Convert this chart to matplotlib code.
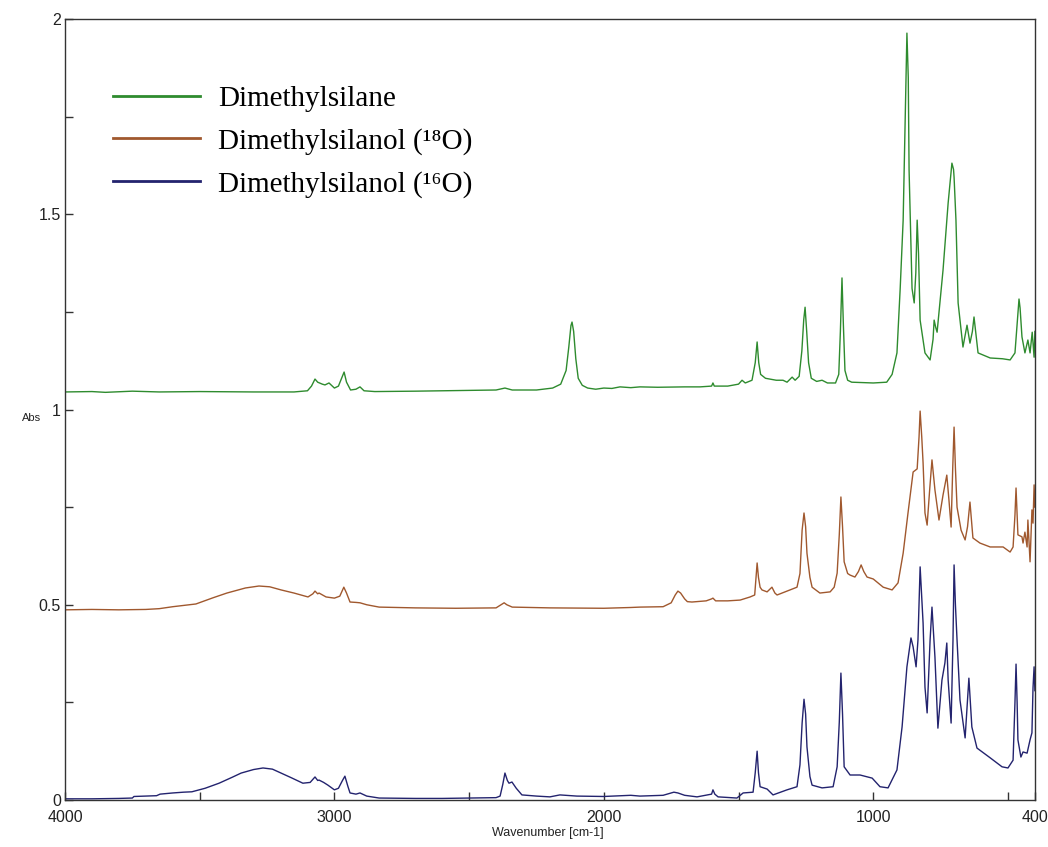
import matplotlib
matplotlib.use("Agg")
import matplotlib.pyplot as plt
import numpy as np

# spectra: wavenumber (cm-1) and absorbance
wn_silane = [4000, 3900, 3850, 3750, 3650, 3500, 3300, 3150, 3100, 3085, 3072, 3062, 3045, 3035,
             3020, 3000, 2985, 2964, 2955, 2940, 2920, 2905, 2890, 2850, 2700, 2600, 2500, 2400,
             2367, 2340, 2250, 2190, 2160, 2140, 2130, 2122, 2118, 2112, 2104, 2095, 2080, 2060,
             2030, 2000, 1970, 1940, 1900, 1866, 1800, 1700, 1643, 1600, 1595, 1590, 1540, 1500,
             1487, 1475, 1450, 1438, 1431, 1425, 1418, 1400, 1360, 1335, 1320, 1301, 1290, 1275,
             1265, 1258, 1253, 1247, 1240, 1230, 1210, 1190, 1170, 1140, 1128, 1122, 1116, 1111,
             1105, 1095, 1080, 1000, 950, 930, 920, 912, 900, 889, 880, 875, 870, 867, 856, 848,
             842, 837, 832, 826, 808, 789, 778, 774, 768, 763, 741, 722, 712, 708, 702, 700, 693,
             685, 667, 652, 641, 632, 626, 620, 611, 566, 520, 492, 474, 465, 459, 455, 448, 437,
             426, 418, 410, 403, 400]
abs_silane = [1.045, 1.046, 1.044, 1.047, 1.045, 1.046, 1.045, 1.045, 1.048, 1.06, 1.078, 1.07,
              1.065, 1.063, 1.068, 1.055, 1.06, 1.096, 1.07, 1.05, 1.052, 1.058, 1.048, 1.046,
              1.047, 1.048, 1.049, 1.05, 1.055, 1.05, 1.05, 1.055, 1.065, 1.1, 1.16, 1.215, 1.224,
              1.2, 1.13, 1.08, 1.062, 1.055, 1.052, 1.055, 1.054, 1.058, 1.056, 1.058, 1.057,
              1.058, 1.058, 1.06, 1.068, 1.06, 1.06, 1.065, 1.075, 1.068, 1.075, 1.12, 1.173, 1.12,
              1.09, 1.08, 1.075, 1.075, 1.07, 1.083, 1.075, 1.085, 1.15, 1.23, 1.262, 1.2, 1.12,
              1.08, 1.072, 1.075, 1.068, 1.068, 1.09, 1.2, 1.337, 1.22, 1.1, 1.075, 1.07, 1.068,
              1.07, 1.09, 1.12, 1.145, 1.31, 1.485, 1.8, 1.964, 1.85, 1.613, 1.31, 1.273, 1.35,
              1.485, 1.4, 1.229, 1.145, 1.127, 1.18, 1.229, 1.21, 1.198, 1.357, 1.529, 1.6, 1.631,
              1.615, 1.595, 1.485, 1.273, 1.16, 1.216, 1.17, 1.2, 1.237, 1.2, 1.145, 1.132, 1.13,
              1.127, 1.145, 1.23, 1.283, 1.26, 1.186, 1.145, 1.178, 1.145, 1.198, 1.134, 1.2]

wn_18o = [4000, 3900, 3800, 3700, 3650, 3600, 3514, 3450, 3399, 3330, 3280, 3240, 3198, 3150,
          3098, 3080, 3072, 3062, 3057, 3031, 3000, 2980, 2965, 2955, 2942, 2920, 2905, 2880,
          2834, 2700, 2550, 2400, 2370, 2360, 2340, 2200, 2000, 1900, 1866, 1780, 1750, 1735,
          1725, 1715, 1700, 1690, 1673, 1620, 1600, 1595, 1585, 1540, 1494, 1457, 1440, 1435,
          1431, 1426, 1420, 1413, 1394, 1376, 1365, 1357, 1320, 1283, 1272, 1264, 1257, 1251,
          1246, 1235, 1227, 1198, 1160, 1145, 1134, 1126, 1120, 1114, 1108, 1095, 1086, 1068,
          1055, 1045, 1035, 1023, 1000, 963, 930, 908, 889, 871, 852, 837, 830, 826, 820, 815,
          808, 800, 790, 782, 771, 756, 741, 727, 719, 711, 705, 700, 695, 689, 674, 659, 650,
          641, 636, 630, 604, 566, 518, 492, 481, 474, 470, 466, 463, 448, 444, 437, 429, 426,
          418, 411, 407, 403, 400]
abs_18o = [0.487, 0.488, 0.487, 0.488, 0.49, 0.495, 0.502, 0.518, 0.53, 0.543, 0.548, 0.546,
           0.538, 0.53, 0.52, 0.528, 0.535, 0.528, 0.53, 0.52, 0.517, 0.522, 0.545, 0.53, 0.507,
           0.506, 0.505, 0.5, 0.494, 0.492, 0.491, 0.492, 0.505, 0.5, 0.494, 0.492, 0.491, 0.493,
           0.494, 0.495, 0.505, 0.525, 0.535, 0.53, 0.515, 0.508, 0.507, 0.51, 0.515, 0.517, 0.51,
           0.51, 0.512, 0.52, 0.525, 0.57, 0.607, 0.57, 0.545, 0.538, 0.533, 0.545, 0.53, 0.525,
           0.535, 0.545, 0.58, 0.691, 0.735, 0.7, 0.632, 0.57, 0.545, 0.53, 0.533, 0.545, 0.581,
           0.68, 0.776, 0.7, 0.61, 0.58, 0.576, 0.571, 0.585, 0.602, 0.585, 0.571, 0.566, 0.545,
           0.538, 0.556, 0.632, 0.735, 0.84, 0.848, 0.93, 0.996, 0.93, 0.863, 0.735, 0.704, 0.8,
           0.871, 0.794, 0.717, 0.781, 0.832, 0.768, 0.699, 0.85, 0.955, 0.85, 0.75, 0.691,
           0.666, 0.7, 0.763, 0.72, 0.671, 0.658, 0.648, 0.648, 0.635, 0.648, 0.73, 0.799, 0.73,
           0.679, 0.674, 0.658, 0.686, 0.648, 0.717, 0.61, 0.743, 0.709, 0.807, 0.75]

wn_16o = [4000, 3900, 3800, 3750, 3744, 3700, 3660, 3647, 3600, 3560, 3529, 3480, 3428, 3380,
          3346, 3300, 3265, 3230, 3198, 3160, 3117, 3090, 3072, 3062, 3057, 3040, 3024, 3000,
          2985, 2970, 2961, 2950, 2942, 2920, 2905, 2880, 2834, 2700, 2600, 2500, 2400, 2385,
          2375, 2367, 2358, 2352, 2341, 2325, 2304, 2250, 2200, 2163, 2100, 2000, 1900, 1866,
          1780, 1740, 1725, 1700, 1654, 1600, 1595, 1588, 1576, 1506, 1483, 1446, 1438, 1431,
          1426, 1420, 1394, 1372, 1320, 1283, 1272, 1264, 1257, 1251, 1246, 1235, 1227, 1190,
          1149, 1134, 1126, 1120, 1114, 1108, 1086, 1049, 1004, 975, 945, 912, 893, 875, 860,
          852, 841, 834, 830, 826, 820, 815, 808, 800, 789, 782, 771, 760, 745, 734, 727, 722,
          711, 704, 700, 695, 689, 678, 659, 645, 634, 615, 566, 522, 500, 481, 474, 470, 466,
          463, 452, 444, 429, 418, 411, 407, 403, 400]
abs_16o = [0.003, 0.003, 0.004, 0.005, 0.009, 0.01, 0.011, 0.015, 0.018, 0.02, 0.021, 0.03,
           0.043, 0.058, 0.069, 0.078, 0.082, 0.079, 0.069, 0.057, 0.043, 0.045, 0.059, 0.05,
           0.051, 0.045, 0.038, 0.026, 0.03, 0.05, 0.061, 0.035, 0.018, 0.015, 0.018, 0.01,
           0.005, 0.004, 0.004, 0.005, 0.006, 0.01, 0.04, 0.069, 0.05, 0.043, 0.046, 0.03, 0.013,
           0.01, 0.008, 0.013, 0.01, 0.009, 0.012, 0.01, 0.012, 0.02, 0.018, 0.012, 0.008, 0.015,
           0.026, 0.015, 0.008, 0.005, 0.018, 0.02, 0.07, 0.125, 0.07, 0.034, 0.028, 0.013,
           0.026, 0.034, 0.09, 0.197, 0.258, 0.22, 0.136, 0.06, 0.038, 0.031, 0.034, 0.085, 0.2,
           0.325, 0.22, 0.085, 0.064, 0.064, 0.056, 0.034, 0.031, 0.077, 0.187, 0.341, 0.415,
           0.392, 0.341, 0.41, 0.5, 0.597, 0.52, 0.453, 0.289, 0.223, 0.41, 0.494, 0.366, 0.184,
           0.307, 0.351, 0.402, 0.307, 0.197, 0.41, 0.602, 0.5, 0.41, 0.256, 0.159, 0.312, 0.187,
           0.133, 0.108, 0.085, 0.082, 0.102, 0.25, 0.348, 0.25, 0.154, 0.11, 0.123, 0.12, 0.154,
           0.172, 0.287, 0.341, 0.28]

labels = ["Dimethylsilane", "Dimethylsilanol (\u00b9\u2078O)", "Dimethylsilanol (\u00b9\u2076O)"]
colors = ["#2E8B2E", "#A0582E", "#23236E"]

fig = plt.figure(figsize=(10.48, 8.47), dpi=100)
ax = fig.add_axes([0.062, 0.0555, 0.9255, 0.922])

ax.plot(wn_silane, abs_silane, color=colors[0], lw=1.0, label=labels[0])
ax.plot(wn_18o, abs_18o, color=colors[1], lw=1.0, label=labels[1])
ax.plot(wn_16o, abs_16o, color=colors[2], lw=1.0, label=labels[2])

ax.set_xlim(4000, 400)
ax.set_ylim(0, 2)
ax.set_xticks([4000, 3000, 2000, 1000, 400])
ax.set_xticklabels(["4000", "3000", "2000", "1000", "400"])
ax.set_xticks([3500, 2500, 1500, 500], minor=True)
ax.set_yticks([0, 0.5, 1, 1.5, 2])
ax.set_yticklabels(["0", "0.5", "1", "1.5", "2"])
ax.set_yticks([0.25, 0.75, 1.25, 1.75], minor=True)
ax.tick_params(which="both", direction="in", length=6, width=1, colors="#333333",
               labelcolor="#222222", labelsize=11.5)
ax.tick_params(axis="x", pad=7)
ax.tick_params(axis="y", pad=3)
for t in ax.get_xticklabels() + ax.get_yticklabels():
    t.set_family("Liberation Sans")
for s in ax.spines.values():
    s.set_color("#333333")
    s.set_linewidth(1.0)

fig.text(0.021, 0.506, "Abs", fontsize=8, family="Liberation Sans", va="center", ha="left", color="#222222")
fig.text(0.523, 0.017, "Wavenumber [cm-1]", fontsize=9, family="Liberation Sans", ha="center",
         va="center", color="#222222")

leg = ax.legend(loc="upper left", bbox_to_anchor=(0.0495, 0.915), frameon=False,
                prop={"family": ["Liberation Serif", "DejaVu Serif"], "size": 21}, handlelength=3.0,
                handletextpad=0.6, labelspacing=0.55, borderpad=0, borderaxespad=0)
for h in leg.get_lines():
    h.set_linewidth(2.0)

fig.savefig("out.png", dpi=100)
